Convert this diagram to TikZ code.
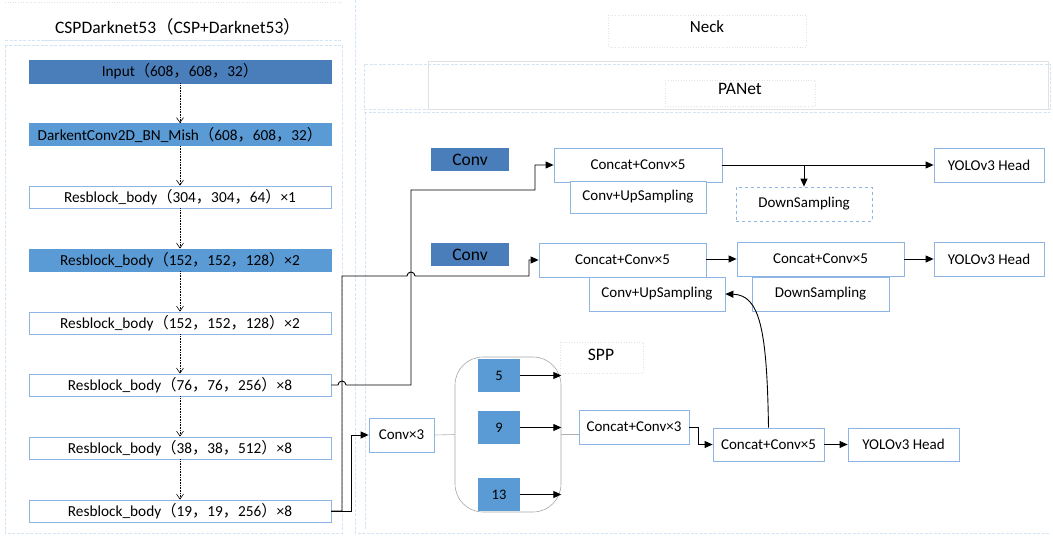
\documentclass[tikz,border=0pt]{standalone}
\usepackage{fontspec}
\setmainfont{Carlito}
\newfontfamily\cjkf{Noto Sans CJK SC}
\usetikzlibrary{arrows.meta}
\newcommand{\LP}{{\cjkf （}}
\newcommand{\RP}{{\cjkf ）}}
\newcommand{\CM}{{\cjkf ，}}
\definecolor{dblue}{HTML}{4A7EBB}
\definecolor{lblue}{HTML}{5B9BD5}
\definecolor{bline}{HTML}{8DB4E2}
\definecolor{faint}{HTML}{D3E4F4}
\definecolor{fgray}{HTML}{E2E2E2}
\tikzset{
  lbox/.style={draw=bline, line width=0.8pt, fill=white, minimum width=302pt, minimum height=22pt, inner sep=0pt, font=\fontsize{15.3}{17}\selectfont},
  rbox/.style={draw=bline, line width=0.8pt, fill=white, minimum height=34pt, inner sep=0pt, font=\fontsize{15}{17}\selectfont},
  sbox/.style={fill=lblue, draw=none, minimum width=42pt, minimum height=33pt, inner sep=0pt, font=\fontsize{14.5}{16}\selectfont},
  cbox/.style={fill=dblue, draw=none, minimum width=78pt, minimum height=23pt, inner sep=0pt, font=\fontsize{17.5}{19}\selectfont},
  varr/.style={line width=0.6pt, dash pattern=on 1pt off 0.6pt, -{Straight Barb[length=5pt,width=7pt]}},
  conn/.style={line width=0.9pt, -{Triangle[length=8pt,width=7pt]}},
  fdash/.style={draw=faint, line width=0.7pt, dash pattern=on 3pt off 1.5pt},
  fdot/.style={draw=fgray, line width=0.6pt, dotted},
  lbl/.style={inner sep=0pt}
}
\begin{document}
\begin{tikzpicture}[x=1pt,y=-1pt]
\useasboundingbox (0,0) rectangle (1053,538);
% faint frames
\draw[fdot] (5,2) -- (342,2);
\draw[fdash] (5,40) -- (342,40);
\draw[draw=faint, line width=0.8pt] (42,40) -- (318,40);
\draw[fdash] (5,45) rectangle (342,533);
\draw[fdash] (355,0) -- (355,533) -- (1050,533);
\draw[fdash] (365,112) -- (365,530);
\draw[fdot] (608,15) rectangle (806,47);
\draw[fdash] (364,64) rectangle (1050,109);
\draw[fdash] (364,112) -- (1050,112);
\draw[draw=fgray, line width=0.7pt] (428,61) rectangle (1048,109);
\draw[fdot] (665,80) rectangle (815,106);
\draw[fdot] (560,342) rectangle (643,373);
% titles
\node[lbl, font=\fontsize{17.5}{19}\selectfont] (title) at (178,27) {CSPDarknet53\LP CSP+Darknet53\RP};
\node[lbl, font=\fontsize{17}{19}\selectfont] (neck) at (707,27) {Neck};
\node[lbl, font=\fontsize{17.5}{19}\selectfont] (panet) at (740,89) {PANet};
\node[lbl, font=\fontsize{17.5}{19}\selectfont] (spplbl) at (601,355) {SPP};
% backbone
\node[lbox, fill=dblue, draw=dblue, minimum height=23pt] (inp) at (180,71.5) {Input\LP 608\CM 608\CM 32\RP};
\node[lbox, fill=lblue, draw=lblue] (dk) at (180,134.5) {DarkentConv2D\_BN\_Mish\LP 608\CM 608\CM 32\RP};
\node[lbox] (r304) at (180,197) {Resblock\_body\LP 304\CM 304\CM 64\RP ×1};
\node[lbox, fill=lblue, draw=lblue] (r152a) at (180,260) {Resblock\_body\LP 152\CM 152\CM 128\RP ×2};
\node[lbox] (r152b) at (180,323) {Resblock\_body\LP 152\CM 152\CM 128\RP ×2};
\node[lbox] (r76) at (180,385) {Resblock\_body\LP 76\CM 76\CM 256\RP ×8};
\node[lbox] (r38) at (180,448) {Resblock\_body\LP 38\CM 38\CM 512\RP ×8};
\node[lbox] (r19) at (180,511) {Resblock\_body\LP 19\CM 19\CM 256\RP ×8};
\draw[varr] (inp) -- (dk);
\draw[varr] (dk) -- (r304);
\draw[varr] (r304) -- (r152a);
\draw[varr] (r152a) -- (r152b);
\draw[varr] (r152b) -- (r76);
\draw[varr] (r76) -- (r38);
\draw[varr] (r38) -- (r19);
% neck boxes
\node[cbox] (conv1) at (470,159.5) {Conv};
\node[cbox] (conv2) at (470,254.5) {Conv};
\node[rbox, minimum width=168pt] (cat1) at (638,165) {Concat+Conv×5};
\node[rbox, minimum width=136pt, minimum height=32pt] (up1) at (638,197) {Conv+UpSampling};
\node[rbox, minimum width=110pt] (head1) at (989,165) {YOLOv3 Head};
\node[rbox, minimum width=136pt, dashed] (ds1) at (804,204) {DownSampling};
\node[rbox, minimum width=167pt] (cat2) at (622.5,260) {Concat+Conv×5};
\node[rbox, minimum width=136pt] (up2) at (657,294) {Conv+UpSampling};
\node[rbox, minimum width=167pt] (cat2b) at (820.5,259) {Concat+Conv×5};
\node[rbox, minimum width=137pt] (ds2) at (820.5,294) {DownSampling};
\node[rbox, minimum width=110pt] (head2) at (989,259) {YOLOv3 Head};
\node[rbox, minimum width=65pt] (conv3) at (401.5,435) {Conv×3};
\node[draw=gray!70, line width=0.6pt, rounded corners=28pt, minimum width=106pt, minimum height=155pt, inner sep=0pt] (spp) at (508,434.5) {};
\node[sbox] (b5) at (499,375.5) {5};
\node[sbox] (b9) at (499,427.5) {9};
\node[sbox] (b13) at (499,494.5) {13};
\node[rbox, minimum width=110pt] (cc3) at (634,427) {Concat+Conv×3};
\node[rbox, minimum width=111pt, minimum height=33pt] (cat3) at (768.5,444.5) {Concat+Conv×5};
\node[rbox, minimum width=111pt, minimum height=33pt] (head3) at (903.5,444.5) {YOLOv3 Head};
% connectors
\draw[conn] (r76.east) -- (338,385) arc[start angle=180, end angle=0, radius=4pt] -- (411,385) -- (411,190) -- (535,190) |- (cat1.west);
\draw[conn] (r19.east) -- (342,511) -- (342,276) -- (407,276) arc[start angle=180, end angle=0, radius=4pt] -- (529,276) |- (cat2.west);
\draw[conn] (r19.east) -- (351,511) |- (conv3.west);
\draw[conn] (cat1.east) -- (head1.west);
\coordinate (dsp) at (804,165);
\draw[conn] (dsp) -- (ds1.north);
\draw[conn] (cat2.east |- cat2b.west) -- (cat2b.west);
\draw[conn] (cat2b.east) -- (head2.west);
\draw[draw=gray!60, line width=0.6pt] (conv3.east) -- (spp.west);
\draw[draw=gray!60, line width=0.6pt] (spp.east) -- (spp.east -| cc3.west);
\draw[conn] (b5.east) -- (b5.east -| spp.east);
\draw[conn] (b9.east) -- (b9.east -| spp.east);
\draw[conn] (b13.east) -- (b13.east -| spp.east);
\draw[conn] (cc3.east) -- (698,427) |- (cat3.west);
\draw[conn] (cat3.east) -- (head3.west);
\draw[conn] (cat3.north) .. controls (767,330) and (760,295) .. (up2.east);
\end{tikzpicture}
\end{document}
